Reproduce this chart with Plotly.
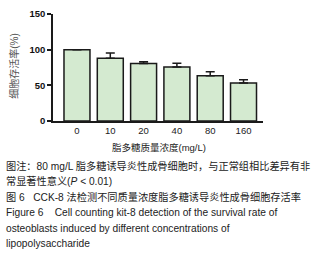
import plotly.graph_objects as go

categories = ["0", "10", "20", "40", "80", "160"]
survival = [100, 88, 80.6, 75.6, 63.5, 53.3]
err_up = [0, 7.2, 2.6, 5.4, 5.6, 4.6]
y_ticks = [0, 50, 100, 150]

W, H = 327, 256
L, R, T, B = 53, 263, 14, 121.5
PW, PH = R - L, B - T

def px(x):
    return (x - L) / PW

def py(y):
    return (B - y) / PH

FONT = "Liberation Sans, Arial, Noto Sans CJK SC, sans-serif"

fig = go.Figure()
fig.add_trace(go.Bar(
    x=categories, y=survival,
    width=0.78,
    marker=dict(color="#d4ead0", line=dict(color="#1a1a1a", width=1.5)),
    error_y=dict(type="data", array=err_up, arrayminus=[0]*len(err_up),
                 symmetric=False, color="#1a1a1a", thickness=1.5, width=4.5),
))

fig.update_layout(
    width=W, height=H,
    margin=dict(l=L, r=W - R, t=T, b=H - B, pad=0, autoexpand=False),
    paper_bgcolor="white", plot_bgcolor="white",
    showlegend=False,
    font=dict(family=FONT, color="#222"),
    xaxis=dict(type="category", range=[-0.72, 5.585], showline=True,
               linecolor="#1a1a1a", linewidth=1.5, ticks="", showgrid=False,
               tickfont=dict(size=9.5, color="#222"), automargin=False),
    yaxis=dict(range=[0, 150], tickvals=y_ticks, ticks="outside",
               showline=True, automargin=False,
               linecolor="#1a1a1a", linewidth=1.5,
               ticklen=4, tickwidth=1.5, tickcolor="#1a1a1a", showgrid=False,
               zeroline=False,
               tickfont=dict(size=9.5, color="#111",
                             family="Liberation Sans, Arial, sans-serif",
                             weight="bold")),
)

ann = []
ann.append(dict(text="细胞存活率(%)", x=px(14), y=py(66), textangle=-90,
                font=dict(size=10, color="#555")))
ann.append(dict(text="脂多糖质量浓度(mg/L)", x=px(159), y=py(148),
                font=dict(size=9.5, color="#222")))
captions = [
    (167, "图注：80 mg/L 脂多糖诱导炎性成骨细胞时，与正常组相比差异有非"),
    (182, "常显著性意义(<i>P</i> < 0.01)"),
    (198, "图 6   CCK-8 法检测不同质量浓度脂多糖诱导炎性成骨细胞存活率"),
    (213.5, "Figure 6    Cell counting kit-8 detection of the survival rate of"),
    (229, "osteoblasts induced by different concentrations of"),
    (244.5, "lipopolysaccharide"),
]
for yy, t in captions:
    ann.append(dict(text=t, x=px(4), y=py(yy), xanchor="left",
                    font=dict(size=10.2, color="#222")))
for a in ann:
    a.update(xref="paper", yref="paper", showarrow=False)
    a.setdefault("xanchor", "center")
    a.setdefault("yanchor", "middle")
fig.update_layout(annotations=ann)

fig.write_html(
    "out.html",
    config={"displayModeBar": False},
    post_script="document.body.style.margin='0';document.body.style.padding='0';"
                "document.body.style.overflow='hidden';",
)
